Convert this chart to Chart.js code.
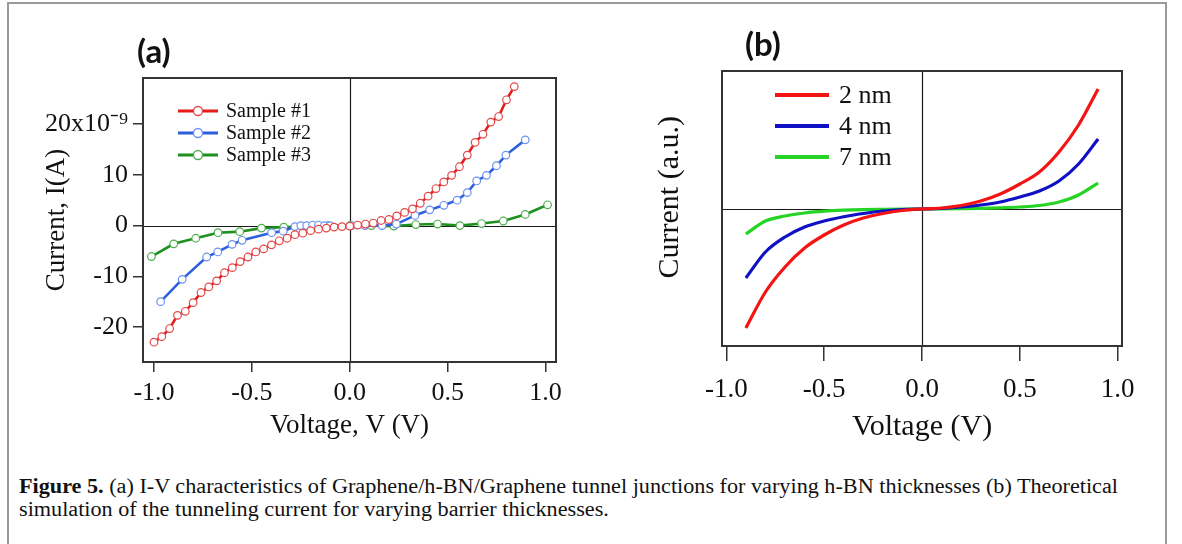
<!DOCTYPE html>
<html>
<head>
<meta charset="utf-8">
<script src="https://cdn.jsdelivr.net/npm/chart.js@4.4.1/dist/chart.umd.min.js"></script>
<style>
  body { margin: 0; background: #fff; width: 1182px; height: 544px; overflow: hidden; position: relative; }
  #border { position: absolute; left: 7px; top: 2px; width: 1156px; height: 600px; border: 2px solid #9a9a9a; }
  canvas { position: absolute; top: 0; }
  #chartA { left: 0; }
  #chartB { left: 600px; }
  .tag { position: absolute; font-family: Lato, "Liberation Sans", sans-serif; font-weight: bold; font-size: 33px; color: #111; }
  #caption { position: absolute; left: 19px; top: 475px; font-family: "Liberation Serif", serif; font-size: 20px;
             line-height: 23px; white-space: nowrap; transform-origin: 0 0; color: #111; }
  #caption span { display: block; }
</style>
</head>
<body>
<div id="border"></div>
<canvas id="chartA" width="600" height="450"></canvas>
<canvas id="chartB" width="582" height="450"></canvas>
<div class="tag" style="left:137px; top:30px;">(a)</div>
<div class="tag" style="left:745px; top:23px;">(b)</div>
<div id="caption">
  <span id="capLine1"><b>Figure 5.</b> (a) I-V characteristics of Graphene/h-BN/Graphene tunnel junctions for varying h-BN thicknesses (b) Theoretical</span>
  <span>simulation of the tunneling current for varying barrier thicknesses.</span>
</div>
<script>
// ---- panel (a): measured I-V, current in units of 1e-9 A ----
const voltS1 = [-1.00, -0.96, -0.92, -0.88, -0.84, -0.80, -0.76, -0.72, -0.68, -0.64, -0.60, -0.56,
                -0.52, -0.48, -0.44, -0.40, -0.36, -0.32, -0.28, -0.24, -0.20, -0.16, -0.12, -0.08,
                -0.04, 0.00, 0.04, 0.08, 0.12, 0.16, 0.20, 0.24, 0.28, 0.32, 0.36, 0.40,
                0.44, 0.48, 0.52, 0.56, 0.60, 0.64, 0.68, 0.72, 0.76, 0.80, 0.84];
const currS1 = [-23.0, -21.9, -20.3, -17.7, -16.9, -15.2, -13.2, -12.1, -10.9, -9.3, -8.3, -7.1,
                -6.2, -5.2, -4.6, -3.8, -3.0, -2.5, -1.8, -1.5, -1.0, -0.7, -0.5, -0.3,
                -0.2, -0.1, 0.1, 0.3, 0.5, 1.0, 1.2, 1.9, 2.6, 3.3, 4.4, 5.8,
                7.3, 8.6, 9.9, 11.6, 13.9, 16.4, 18.0, 20.4, 21.5, 24.8, 27.4];

const voltS2 = [-0.966, -0.856, -0.731, -0.674, -0.601, -0.550, -0.399, -0.340, -0.28, -0.25,
                -0.22, -0.19, -0.16, -0.13, -0.10, 0.01, 0.077, 0.165, 0.238, 0.333,
                0.408, 0.480, 0.548, 0.600, 0.648, 0.698, 0.749, 0.797, 0.896];
const currS2 = [-15.0, -10.6, -6.2, -5.2, -3.7, -2.9, -1.4, -1.1, -0.2, 0.0,
                0.0, 0.1, 0.1, 0.0, 0.0, 0.0, 0.0, 0.0, 0.3, 2.0,
                3.1, 4.0, 5.0, 6.5, 8.8, 9.9, 11.8, 13.9, 16.9];

const voltS3 = [-1.013, -0.899, -0.787, -0.673, -0.562, -0.451, -0.337, -0.225, -0.111, 0.0,
                0.111, 0.225, 0.337, 0.448, 0.562, 0.673, 0.784, 0.896, 1.010];
const currS3 = [-6.1, -3.6, -2.5, -1.4, -1.2, -0.5, -0.3, -0.2, 0.0, 0.0,
                0.0, -0.1, 0.2, 0.3, 0.0, 0.4, 0.9, 2.2, 4.1];

const labelsA = ['Sample #1', 'Sample #2', 'Sample #3'];
const xTicksA = [-1.0, -0.5, 0.0, 0.5, 1.0];
const yTicksA = [-20, -10, 0, 10, 20];

// ---- panel (b): simulated tunneling current, arbitrary units ----
const voltB = [-0.9, -0.8, -0.7, -0.6, -0.5, -0.4, -0.3, -0.2, -0.1, 0.0,
               0.1, 0.2, 0.3, 0.4, 0.5, 0.6, 0.7, 0.8, 0.9];
const curr2nm = [-1.19, -0.83, -0.58, -0.39, -0.26, -0.16, -0.09, -0.045, -0.015, 0,
                 0.01, 0.035, 0.08, 0.15, 0.25, 0.37, 0.57, 0.84, 1.20];
const curr4nm = [-0.69, -0.43, -0.28, -0.18, -0.12, -0.077, -0.045, -0.02, -0.005, 0,
                 0.005, 0.02, 0.04, 0.07, 0.12, 0.18, 0.28, 0.45, 0.70];
const curr7nm = [-0.25, -0.12, -0.07, -0.04, -0.022, -0.012, -0.006, -0.003, -0.001, 0,
                 0.001, 0.003, 0.006, 0.012, 0.02, 0.035, 0.07, 0.14, 0.26];
const labelsB = ['2 nm', '4 nm', '7 nm'];
const xTicksB = [-1.0, -0.5, 0.0, 0.5, 1.0];

const pts = (xs, ys) => xs.map((x, i) => ({ x: x, y: ys[i] }));
const serif = 'Liberation Serif';
const ink = '#111';

// box around the plot area plus the two zero lines
const framePlugin = {
  id: 'frame',
  beforeDatasetsDraw(chart) {
    const { ctx, chartArea: a, scales: { x, y } } = chart;
    ctx.save();
    ctx.strokeStyle = '#1a1a1a';
    ctx.lineWidth = 1.2;
    const x0 = Math.round(x.getPixelForValue(0)) + 0.5;
    const y0 = Math.round(y.getPixelForValue(0)) + 0.5;
    ctx.beginPath();
    ctx.moveTo(x0, a.top); ctx.lineTo(x0, a.bottom);
    ctx.moveTo(a.left, y0); ctx.lineTo(a.right, y0);
    ctx.stroke();
    ctx.strokeStyle = '#333';
    ctx.lineWidth = 2;
    ctx.strokeRect(a.left, a.top, a.width, a.height);
    ctx.restore();
  }
};

// legend drawn inside the plot box
const boxLegend = {
  id: 'boxLegend',
  afterDatasetsDraw(chart, args, o) {
    const { ctx, chartArea: a } = chart;
    ctx.save();
    ctx.font = o.font;
    ctx.textBaseline = 'middle';
    chart.data.datasets.forEach((ds, i) => {
      const y = a.top + o.top + i * o.gap;
      const x0 = a.left + o.left, x1 = x0 + o.lineLen;
      ctx.strokeStyle = ds.borderColor;
      ctx.lineWidth = o.lineWidth;
      ctx.beginPath(); ctx.moveTo(x0, y); ctx.lineTo(x1, y); ctx.stroke();
      if (ds.pointRadius) {
        ctx.beginPath();
        ctx.arc((x0 + x1) / 2, y, o.markR, 0, Math.PI * 2);
        ctx.fillStyle = '#fff'; ctx.fill();
        ctx.strokeStyle = ds.pointBorderColor; ctx.lineWidth = 1.3; ctx.stroke();
      }
      ctx.fillStyle = ink;
      ctx.fillText(ds.label, x1 + o.textGap, y + 1);
    });
    ctx.restore();
  }
};

const tickGrid = (len) => ({ display: true, drawOnChartArea: false, drawTicks: true, tickLength: len, color: '#333', lineWidth: 1.5 });

function seriesA(label, xs, ys, line, mark) {
  return {
    label: label, data: pts(xs, ys), showLine: true,
    borderColor: line, borderWidth: 2.6,
    pointRadius: 3.8, pointBorderWidth: 1.2, pointBackgroundColor: '#fff', pointBorderColor: mark
  };
}

new Chart(document.getElementById('chartA'), {
  type: 'scatter',
  data: {
    datasets: [
      seriesA(labelsA[0], voltS1, currS1, '#e51b1b', '#e44848'),
      seriesA(labelsA[1], voltS2, currS2, '#2c5fdc', '#6a92ee'),
      seriesA(labelsA[2], voltS3, currS3, '#1e901e', '#4fae4f')
    ]
  },
  options: {
    responsive: false,
    animation: false,
    layout: { padding: { top: 78, right: 44, left: 0, bottom: 0 } },
    plugins: {
      legend: { display: false },
      tooltip: { enabled: false },
      boxLegend: { font: '20px "Liberation Serif"', left: 35, top: 33, gap: 22, lineLen: 40, lineWidth: 2.8, markR: 4.5, textGap: 8 }
    },
    scales: {
      x: {
        type: 'linear', min: -1.056, max: 1.053,
        afterBuildTicks: s => { s.ticks = xTicksA.map(v => ({ value: v })); },
        afterFit: s => { s.height = 88; },
        grid: tickGrid(10),
        border: { display: false },
        ticks: { font: { family: serif, size: 26 }, color: ink, padding: 6, maxRotation: 0, callback: v => v.toFixed(1) },
        title: { display: true, text: 'Voltage, V (V)', color: ink, font: { family: serif, size: 27 }, padding: { top: 0, bottom: 8 } }
      },
      y: {
        type: 'linear', min: -26.9, max: 29.1,
        afterBuildTicks: s => { s.ticks = yTicksA.map(v => ({ value: v })); },
        afterFit: s => { s.width = 143; },
        grid: tickGrid(10),
        border: { display: false },
        ticks: { font: { family: serif, size: 26 }, color: ink, padding: 5, callback: v => (v === 20 ? '20x10\u207B\u2079' : String(v)) },
        title: { display: true, text: 'Current, I(A)', color: ink, font: { family: serif, size: 27 }, padding: { top: 41, bottom: 0 } }
      }
    }
  },
  plugins: [framePlugin, boxLegend]
});

function seriesB(label, ys, color) {
  return {
    label: label, data: pts(voltB, ys), showLine: true,
    borderColor: color, borderWidth: 3.2, pointRadius: 0,
    cubicInterpolationMode: 'monotone'
  };
}

new Chart(document.getElementById('chartB'), {
  type: 'scatter',
  data: {
    datasets: [
      seriesB(labelsB[0], curr2nm, '#f41414'),
      seriesB(labelsB[1], curr4nm, '#1010c4'),
      seriesB(labelsB[2], curr7nm, '#25d425')
    ]
  },
  options: {
    responsive: false,
    animation: false,
    layout: { padding: { top: 71, right: 60, left: 0, bottom: 0 } },
    plugins: {
      legend: { display: false },
      tooltip: { enabled: false },
      boxLegend: { font: '26px "Liberation Serif"', left: 53, top: 24, gap: 31, lineLen: 54, lineWidth: 4, markR: 0, textGap: 10 }
    },
    scales: {
      x: {
        type: 'linear', min: -1.022, max: 1.022,
        afterBuildTicks: s => { s.ticks = xTicksB.map(v => ({ value: v })); },
        afterFit: s => { s.height = 104; },
        grid: tickGrid(15),
        border: { display: false },
        ticks: { font: { family: serif, size: 27 }, color: ink, padding: 13, maxRotation: 0, callback: v => v.toFixed(1) },
        title: { display: true, text: 'Voltage (V)', color: ink, font: { family: serif, size: 30 }, padding: { top: 0, bottom: 5 } }
      },
      y: {
        type: 'linear', min: -1.37, max: 1.38,
        afterFit: s => { s.width = 122; },
        grid: { display: false },
        border: { display: false },
        ticks: { display: false },
        // leading spaces lift the rotated label a little, as in the figure
        title: { display: true, text: '   Current (a.u.)', color: ink, font: { family: serif, size: 30 }, padding: { top: 52, bottom: 0 } }
      }
    }
  },
  plugins: [framePlugin, boxLegend]
});

// stretch the caption to the width it has in the figure
const cap = document.getElementById('caption');
const w = document.getElementById('capLine1').getBoundingClientRect().width;
cap.style.transform = 'scaleX(' + (1099 / w).toFixed(4) + ')';
</script>
</body>
</html>
